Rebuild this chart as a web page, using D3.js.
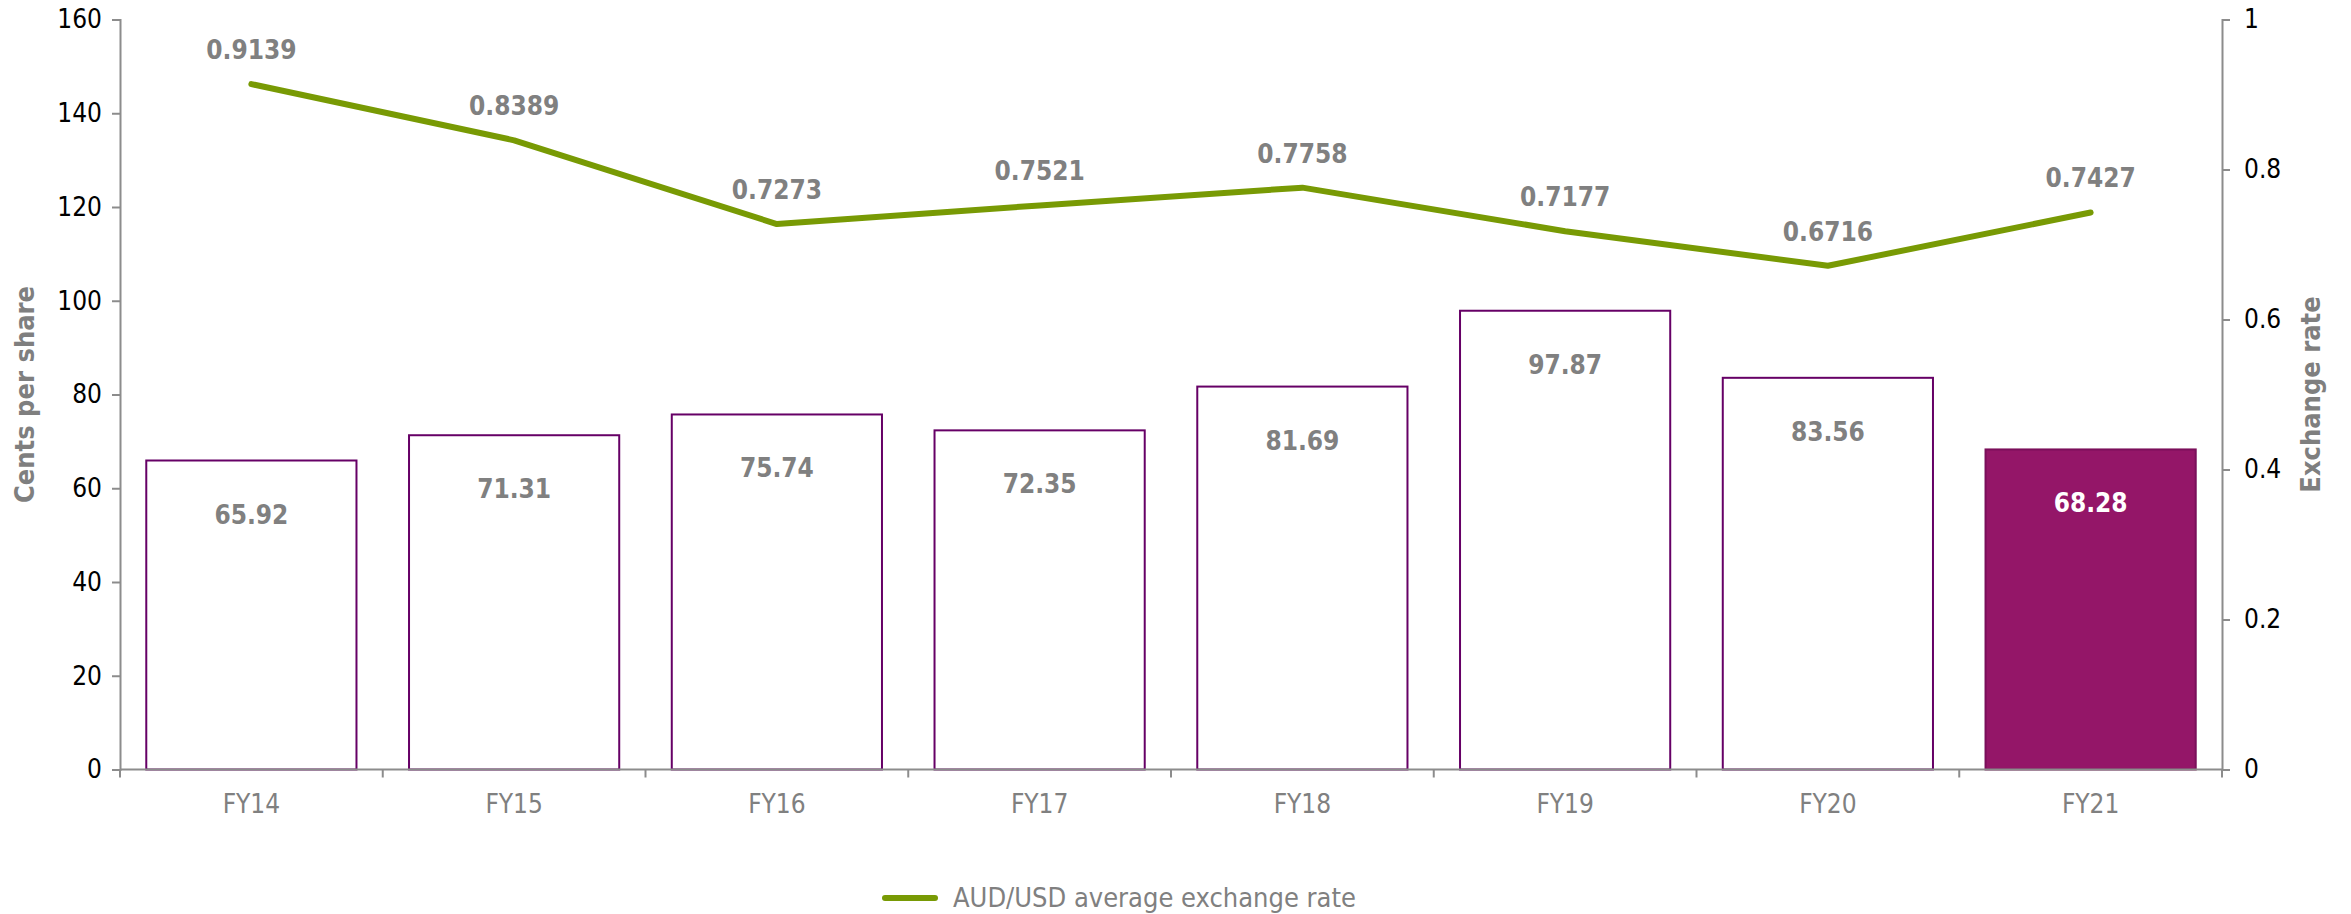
<!DOCTYPE html>
<html>
<head>
<meta charset="utf-8">
<script src="https://cdn.jsdelivr.net/npm/d3@7"></script>
<style>
  body { margin: 0; background: #fff; }
  text { font-family: "DejaVu Sans Condensed", "DejaVu Sans", sans-serif; }
</style>
</head>
<body>
<div id="chart"></div>
<script>
const years = ['FY14', 'FY15', 'FY16', 'FY17', 'FY18', 'FY19', 'FY20', 'FY21'];
const centsPerShare = [65.92, 71.31, 75.74, 72.35, 81.69, 97.87, 83.56, 68.28];
const audUsd = [0.9139, 0.8389, 0.7273, 0.7521, 0.7758, 0.7177, 0.6716, 0.7427];
const leftTicks = [0, 20, 40, 60, 80, 100, 120, 140, 160];
const rightTicks = [0, 0.2, 0.4, 0.6, 0.8, 1];

const width = 2351, height = 914;
const margin = { top: 19.5, right: 129, bottom: 144.5, left: 120 };
const axisColor = '#8c8c8c';
const lineColor = '#789a04';
const fontStack = '"DejaVu Sans Condensed", "DejaVu Sans", sans-serif';

const svg = d3.select('#chart')
    .append('svg')
    .attr('width', width)
    .attr('height', height);

const x = d3.scaleBand()
    .domain(years)
    .range([margin.left, width - margin.right])
    .paddingInner(0.2)
    .paddingOuter(0.1);

const yLeft = d3.scaleLinear()
    .domain([0, 160])
    .range([height - margin.bottom, margin.top]);

const yRight = d3.scaleLinear()
    .domain([0, 1])
    .range([height - margin.bottom, margin.top]);

const last = years.length - 1;

// bars
svg.append('g')
  .selectAll('rect')
  .data(centsPerShare)
  .join('rect')
    .attr('x', (d, i) => x(years[i]))
    .attr('y', (d) => yLeft(d))
    .attr('width', x.bandwidth())
    .attr('height', (d) => yLeft(0) - yLeft(d))
    .attr('fill', (d, i) => i === last ? '#941668' : '#fff')
    .attr('stroke', (d, i) => i === last ? '#7a0f5a' : '#660066')
    .attr('stroke-width', 2);

svg.append('g')
  .selectAll('text')
  .data(centsPerShare)
  .join('text')
    .attr('x', (d, i) => x(years[i]) + x.bandwidth() / 2)
    .attr('y', (d) => yLeft(d) + 63)
    .attr('text-anchor', 'middle')
    .attr('font-size', 26)
    .attr('font-weight', 'bold')
    .attr('fill', (d, i) => i === last ? '#fff' : '#808080')
    .text((d) => d.toFixed(2));

// axes
const leftAxis = svg.append('g')
    .attr('transform', `translate(${margin.left},0)`)
    .call(d3.axisLeft(yLeft).tickValues(leftTicks).tickSize(8).tickPadding(10));

const rightAxis = svg.append('g')
    .attr('transform', `translate(${width - margin.right},0)`)
    .call(d3.axisRight(yRight).tickValues(rightTicks).tickSize(8).tickPadding(14)
      .tickFormat(d3.format('~g')));

const xAxis = svg.append('g')
    .attr('transform', `translate(0,${height - margin.bottom})`)
    .call(d3.axisBottom(x).tickSize(0).tickPadding(25));

[leftAxis, rightAxis, xAxis].forEach((g) => {
  g.select('.domain').attr('stroke', axisColor).attr('stroke-width', 2);
  g.selectAll('.tick line').attr('stroke', axisColor).attr('stroke-width', 2);
  g.selectAll('.tick text').attr('font-size', 26).attr('fill', '#000')
      .attr('font-family', fontStack);
});
xAxis.select('.domain').attr('d', `M${margin.left},0H${width - margin.right}`);
xAxis.selectAll('.tick text').attr('fill', '#808080');

// tick marks between categories
svg.append('g')
  .selectAll('line')
  .data(d3.range(years.length + 1))
  .join('line')
    .attr('x1', (i) => margin.left + i * x.step())
    .attr('x2', (i) => margin.left + i * x.step())
    .attr('y1', yLeft(0))
    .attr('y2', yLeft(0) + 8)
    .attr('stroke', axisColor)
    .attr('stroke-width', 2);

// axis titles
svg.append('text')
    .attr('transform', `translate(34,${(yLeft(0) + yLeft(160)) / 2}) rotate(-90)`)
    .attr('text-anchor', 'middle')
    .attr('font-size', 27)
    .attr('font-weight', 'bold')
    .attr('fill', '#7f7f7f')
    .text('Cents per share');

svg.append('text')
    .attr('transform', `translate(2320,${(yLeft(0) + yLeft(160)) / 2}) rotate(-90)`)
    .attr('text-anchor', 'middle')
    .attr('font-size', 27)
    .attr('font-weight', 'bold')
    .attr('fill', '#7f7f7f')
    .text('Exchange rate');

// line
const line = d3.line()
    .x((d, i) => x(years[i]) + x.bandwidth() / 2)
    .y((d) => yRight(d));

svg.append('path')
    .datum(audUsd)
    .attr('d', line)
    .attr('fill', 'none')
    .attr('stroke', lineColor)
    .attr('stroke-width', 6)
    .attr('stroke-linecap', 'round')
    .attr('stroke-linejoin', 'round');

svg.append('g')
  .selectAll('text')
  .data(audUsd)
  .join('text')
    .attr('x', (d, i) => x(years[i]) + x.bandwidth() / 2)
    .attr('y', (d) => yRight(d) - 25)
    .attr('text-anchor', 'middle')
    .attr('font-size', 26)
    .attr('font-weight', 'bold')
    .attr('fill', '#808080')
    .text((d) => d.toFixed(4));

// legend
const legend = svg.append('g').attr('transform', 'translate(885,898)');
legend.append('line')
    .attr('x1', 0).attr('x2', 50)
    .attr('stroke', lineColor)
    .attr('stroke-width', 6)
    .attr('stroke-linecap', 'round');
legend.append('text')
    .attr('x', 68)
    .attr('dy', '0.35em')
    .attr('font-size', 27)
    .attr('fill', '#808080')
    .text('AUD/USD average exchange rate');
</script>
</body>
</html>
